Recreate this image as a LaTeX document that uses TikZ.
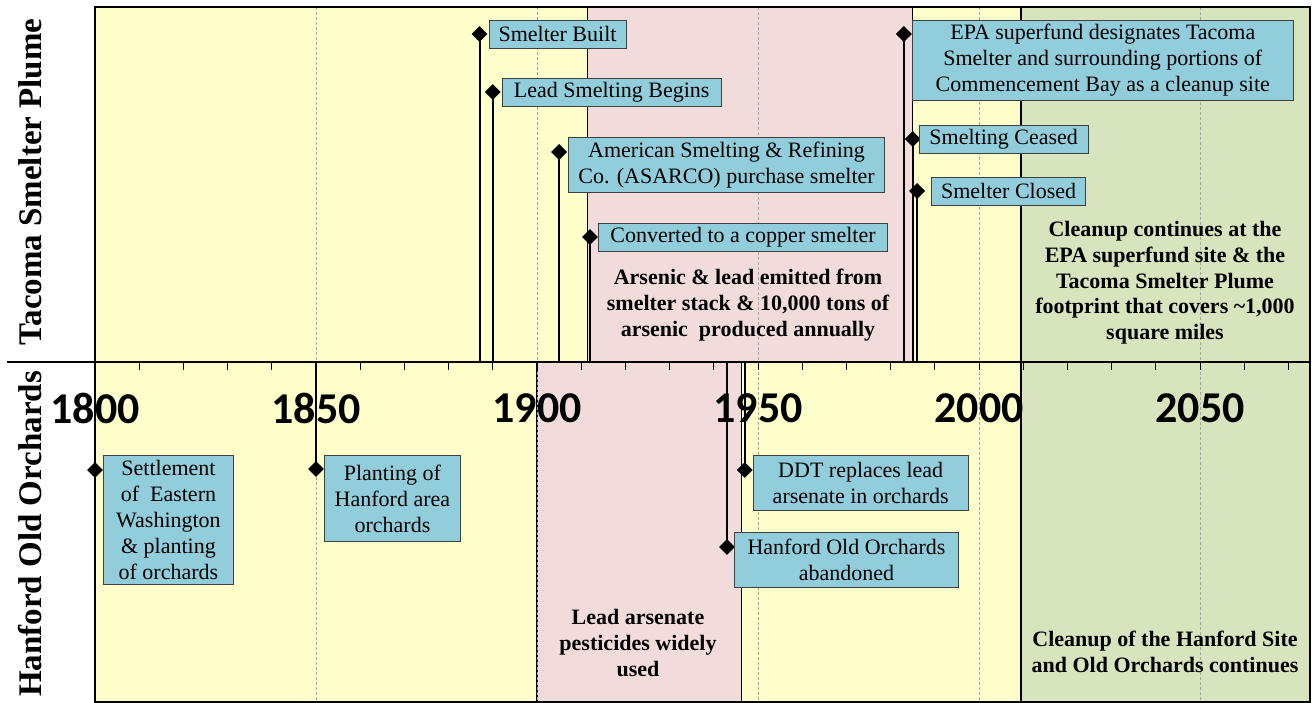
\documentclass[tikz,border=0pt]{standalone}
\usepackage{fontspec}
\setmainfont{Liberation Serif}
\setsansfont{Carlito}
\usetikzlibrary{positioning,shapes.geometric}
\definecolor{band-yellow}{HTML}{FFFFCC}
\definecolor{band-pink}{HTML}{F2DCDB}
\definecolor{band-green}{HTML}{D7E4BD}
\definecolor{box-blue}{HTML}{92CDDC}
\newcommand{\yr}[1]{95+4.42*(#1-1800)}

\begin{document}
\begin{tikzpicture}[x=1pt, y=-1pt,
    band/.style={draw=black, line width=1.2pt},
    gridline/.style={draw=gray!70, dash pattern=on 3pt off 2pt, line width=0.7pt},
    evbox/.style={rectangle, draw=black!75, fill=box-blue, line width=0.9pt, align=center,
                  font=\fontsize{22}{26}\selectfont, inner sep=2pt, minimum height=28pt},
    evmark/.style={diamond, fill=black, inner sep=0pt, minimum size=16pt},
    evline/.style={line width=2pt},
    note/.style={align=center, font=\bfseries\fontsize{22}{25.7}\selectfont},
    yearlab/.style={font=\sffamily\bfseries\fontsize{44}{44}\selectfont, inner sep=0pt},
    side/.style={rotate=90, font=\bfseries\fontsize{33}{33}\selectfont}
]
  \useasboundingbox (0,0) rectangle (1314,702);

  % Period bands
  \fill[band-yellow] (95,7) rectangle (1310,702);
  \draw[band, fill=band-pink] ({\yr{1911.5}},7) rectangle ({\yr{1985}},362);
  \draw[band, fill=band-pink] ({\yr{1900}},362) rectangle ({\yr{1946.2}},702);
  \draw[band, fill=band-green] ({\yr{2009.5}},7) rectangle (1310,702);

  % Grid lines
  \foreach \y in {1850,1900,...,2050}
    \draw[gridline] ({\yr{\y}},7) -- ({\yr{\y}},702);

  % Side labels
  \node[side] (tacoma) at (30,182) {Tacoma Smelter Plume};
  \node[side] (hanford) at (30,534) {Hanford Old Orchards};

  % Tacoma events
  \node[evmark] (built) at ({\yr{1887}},34) {};
  \node[evbox, minimum width=137pt, below right=-14pt and 9pt of built.center] (builtbox) {Smelter Built};

  \node[evmark] (lead) at ({\yr{1890}},92) {};
  \node[evbox, minimum width=219pt, below right=-14pt and 9pt of lead.center] (leadbox) {Lead Smelting Begins};

  \node[evmark] (asarco) at ({\yr{1905}},152) {};
  \node[evbox, minimum width=316pt, minimum height=55pt, below right=-15pt and 9pt of asarco.center] (asarcobox) {American Smelting \& Refining\\Co. (ASARCO) purchase smelter};

  \node[evmark] (copper) at ({\yr{1912}},237) {};
  \node[evbox, minimum width=289pt, below right=-14pt and 8pt of copper.center] (copperbox) {Converted to a copper smelter};

  \node[evmark] (epa) at ({\yr{1983}},34) {};
  \node[evbox, minimum width=381pt, minimum height=80pt, below right=-14pt and 8pt of epa.center] (epabox) {EPA superfund designates Tacoma\\Smelter and surrounding portions of\\Commencement Bay as a cleanup site};

  \node[evmark] (ceased) at ({\yr{1985}},139) {};
  \node[evbox, minimum width=169pt, below right=-14pt and 6pt of ceased.center] (ceasedbox) {Smelting Ceased};

  \node[evmark] (closed) at ({\yr{1986}},191) {};
  \node[evbox, minimum width=154pt, below right=-14pt and 14pt of closed.center] (closedbox) {Smelter Closed};

  % Hanford events
  \node[evmark] (settle) at ({\yr{1800}},470) {};
  \node[evbox, minimum width=130pt, minimum height=129pt, below right=-15pt and 8pt of settle.center] (settlebox) {Settlement\\of~ Eastern\\Washington\\\& planting\\of orchards};

  \node[evmark] (plant) at ({\yr{1850}},469) {};
  \node[evbox, minimum width=136pt, minimum height=86pt, below right=-14pt and 8pt of plant.center] (plantbox) {Planting of\\Hanford area\\orchards};

  \node[evmark] (ddt) at ({\yr{1947}},470) {};
  \node[evbox, minimum width=215pt, minimum height=55pt, below right=-15pt and 8pt of ddt.center] (ddtbox) {DDT replaces lead\\arsenate in orchards};

  \node[evmark] (abandon) at ({\yr{1943}},547) {};
  \node[evbox, minimum width=224pt, minimum height=55pt, below right=-15pt and 7pt of abandon.center] (abandonbox) {Hanford Old Orchards\\abandoned};

  % Period notes
  \node[note] (arsenic) at (748,305) {Arsenic \& lead emitted from\\smelter stack \& 10,000 tons of\\arsenic~ produced annually};
  \node[note] (cleantop) at (1165,283) {Cleanup continues at the\\EPA superfund site \& the\\Tacoma Smelter Plume\\footprint that covers \textasciitilde1,000\\square miles};
  \node[note] (leaduse) at (638,643) {Lead arsenate\\pesticides widely\\used};
  \node[note] (cleanbot) at (1165,652) {Cleanup of the Hanford Site\\and Old Orchards continues};

  % Year labels
  \foreach \y in {1800,1850,...,2050}
    \node[yearlab] (y\y) at ({\yr{\y}},408) {\y};

  % Axis
  \coordinate (axis) at (95,362);
  \draw[line width=1.8pt] (7,362) -- (1310,362);
  \foreach \y in {1810,1820,...,2070}
    \draw[line width=1pt] ({\yr{\y}},362) -- ++(0,8);

  % Event lines
  \foreach \e in {built,lead,asarco,copper,epa,ceased,closed,settle,plant,ddt,abandon}
    \draw[evline] (\e.center) -- (\e |- axis);

  % Frame
  \draw[line width=1.2pt] (95,7) rectangle (1310,702);
\end{tikzpicture}
\end{document}
